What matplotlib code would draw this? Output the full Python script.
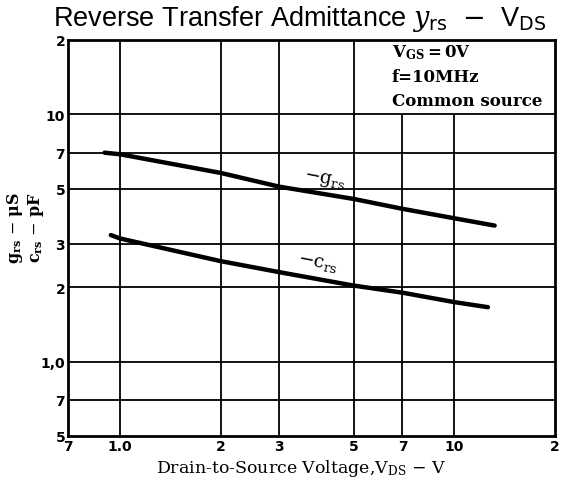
import matplotlib
matplotlib.use('Agg')
import matplotlib.pyplot as plt

# values (log-log)
vds_g = [0.90, 1.0, 2.0, 3.0, 5.0, 7.0, 10.0, 13.2]
g_rs = [7.0, 6.9, 5.8, 5.1, 4.55, 4.15, 3.8, 3.55]

vds_c = [0.94, 1.0, 2.0, 3.0, 5.0, 7.0, 10.0, 12.6]
c_rs = [3.25, 3.15, 2.55, 2.3, 2.03, 1.9, 1.74, 1.66]

xticks = [0.7, 1, 2, 3, 5, 7, 10, 20]
xticklabels = ['7', '1.0', '2', '3', '5', '7', '10', '2']
yticks = [0.5, 0.7, 1, 2, 3, 5, 7, 10, 20]
yticklabels = ['5', '7', '1,0', '2', '3', '5', '7', '10', '2']

plt.rcParams['mathtext.fontset'] = 'dejavuserif'

fig = plt.figure(figsize=(5.65, 4.89), dpi=100)
ax = fig.add_axes([68 / 565, 1 - 437 / 489, 487 / 565, 396 / 489])
ax.set_xscale('log')
ax.set_yscale('log')
ax.set_xlim(0.7, 20)
ax.set_ylim(0.5, 20)

# grid: the two right vertical lines stop under the condition box
for x in xticks[1:-1]:
    top = 10 if x > 5 else 20
    ax.vlines(x, 0.5, top, color='black', lw=1.3, zorder=1)
for y in yticks[1:-1]:
    ax.axhline(y, color='black', lw=1.3, zorder=1)

ax.plot(vds_g, g_rs, color='black', lw=3.2, solid_capstyle='round', zorder=3)
ax.plot(vds_c, c_rs, color='black', lw=3.2, solid_capstyle='round', zorder=3)

ax.text(4.1, 5.45, r'$-\mathrm{g}_{\rm rs}$', fontsize=13.5, rotation=-11,
        ha='center', va='center', family='DejaVu Serif')
ax.text(3.9, 2.52, r'$-\mathrm{c}_{\rm rs}$', fontsize=13.5, rotation=-11,
        ha='center', va='center', family='DejaVu Serif')

ax.text(392 / 565, 1 - 53 / 489, r'$\mathbf{V_{GS}}$$\mathbf{=0V}$', transform=fig.transFigure,
        fontsize=12, va='center', ha='left', family='DejaVu Serif')
ax.text(392 / 565, 1 - 78 / 489, 'f=10MHz', transform=fig.transFigure,
        fontsize=12, va='center', ha='left', family='DejaVu Serif', fontweight='bold')
ax.text(392 / 565, 1 - 102 / 489, 'Common source', transform=fig.transFigure,
        fontsize=12, va='center', ha='left', family='DejaVu Serif', fontweight='bold')

ax.set_xticks(xticks)
ax.set_xticklabels(xticklabels)
ax.set_yticks(yticks)
ax.set_yticklabels(yticklabels)
ax.minorticks_off()
ax.tick_params(length=0, pad=2, labelsize=10)
for lab in ax.get_xticklabels() + ax.get_yticklabels():
    lab.set_fontweight('bold')
for s in ax.spines.values():
    s.set_linewidth(2)

fig.text(301 / 565, 1 - 469 / 489, r'Drain-to-Source Voltage,V$_{\rm DS}$ $-$ V', fontsize=12.5,
         family='DejaVu Serif', ha='center', va='center')
fig.text(15 / 565, 1 - 228 / 489, r'$\mathbf{g_{rs}}$ $-$ $\mathbf{\mu S}$', rotation=90,
         ha='center', va='center', fontsize=11.5, family='DejaVu Serif')
fig.text(36 / 565, 1 - 228 / 489, r'$\mathbf{c_{rs}}$ $-$ $\mathbf{pF}$', rotation=90,
         ha='center', va='center', fontsize=11.5, family='DejaVu Serif')

fig.text(53 / 565, 1 - 19 / 489,
         r'Reverse Transfer Admittance $y$$_{\mathsf{rs}}$  $-$  V$_{\mathsf{DS}}$',
         fontsize=19.5, family='Liberation Sans', ha='left', va='center')

fig.savefig('out.png', dpi=100)
